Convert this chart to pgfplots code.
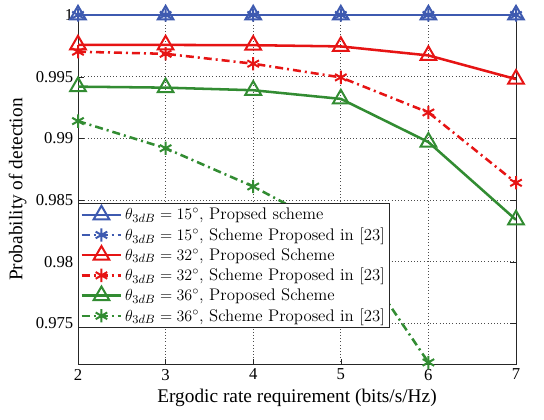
\documentclass[border=0pt]{standalone}
\usepackage{pgfplots}
\pgfplotsset{compat=1.18}
\usepackage{fontspec}
\setmainfont{Liberation Serif}
\newfontfamily\lmr{Latin Modern Roman}
\definecolor{cblue}{RGB}{62,90,176}
\definecolor{cred}{RGB}{230,20,20}
\definecolor{cgreen}{RGB}{50,140,50}
\tikzset{
  ptri/.style={solid, line width=1.9pt, mark=triangle, mark size=6.8pt, mark options={solid, line width=1.5pt}},
  pstar/.style={line width=1.9pt, dash pattern=on 6pt off 3pt on 1.5pt off 3pt, mark=asterisk, mark size=5pt, mark options={solid, line width=1.5pt}},
}
\begin{document}
\begin{tikzpicture}
\begin{axis}[
  scale only axis,
  width=328.5pt, height=262pt,
  xmin=2, xmax=7, ymin=0.9717, ymax=1,
  xtick={2,3,4,5,6,7},
  ytick={0.975,0.98,0.985,0.99,0.995,1},
  /pgf/number format/assume math mode=true,
  /pgf/number format/fixed, /pgf/number format/precision=3,
  tick label style={font=\fontsize{12.5}{14}\selectfont},
  label style={font=\fontsize{14.5}{16}\selectfont},
  xlabel={Ergodic rate requirement (bits/s/Hz)},
  ylabel={Probability of detection},
  grid=major,
  major grid style={dotted, black!70, line width=0.6pt},
  axis line style={black!85, line width=0.7pt},
  tick style={black!85},
  tick align=inside,
  legend style={at={(0,0.462)}, anchor=north west, draw=black!85, line width=0.7pt, font=\lmr\fontsize{12.6}{15}\selectfont, row sep=0.5pt, inner sep=1.5pt, cells={anchor=west}},
  legend image code/.code={\draw[mark repeat=2, mark phase=2] plot coordinates {(0cm,0cm) (0.52cm,0cm) (1.04cm,0cm)};},
]
\coordinate (sw) at (rel axis cs:0,0);
\coordinate (ne) at (rel axis cs:1,1);
\addplot[cblue, ptri] coordinates {(2,1) (3,1) (4,1) (5,1) (6,1) (7,1)};
\addlegendentry{$\theta_{3dB}=15^\circ$, Propsed scheme}
\addplot[cblue, pstar] coordinates {(2,1) (3,1) (4,1) (5,1) (6,1) (7,1)};
\addlegendentry{$\theta_{3dB}=15^\circ$, Scheme Proposed in [23]}
\addplot[cred, ptri] coordinates {(2,0.99758) (3,0.99757) (4,0.99755) (5,0.99745) (6,0.99672) (7,0.99480)};
\addlegendentry{$\theta_{3dB}=32^\circ$, Proposed Scheme}
\addplot[cred, pstar] coordinates {(2,0.99702) (3,0.99685) (4,0.99605) (5,0.99494) (6,0.99210) (7,0.98640)};
\addlegendentry{$\theta_{3dB}=32^\circ$, Scheme Proposed in [23]}
\addplot[cgreen, ptri] coordinates {(2,0.99419) (3,0.99411) (4,0.99390) (5,0.99320) (6,0.98970) (7,0.98340)};
\addlegendentry{$\theta_{3dB}=36^\circ$, Proposed Scheme}
\addplot[cgreen, pstar] coordinates {(2,0.99140) (3,0.98920) (4,0.98610) (5,0.98234) (6,0.97185)};
\addlegendentry{$\theta_{3dB}=36^\circ$, Scheme Proposed in [23]}
\end{axis}
\pgfresetboundingbox
\path ([shift={(-58.5pt,-41.2pt)}]sw) rectangle ([shift={(21pt,11.2pt)}]ne);
\end{tikzpicture}
\end{document}
